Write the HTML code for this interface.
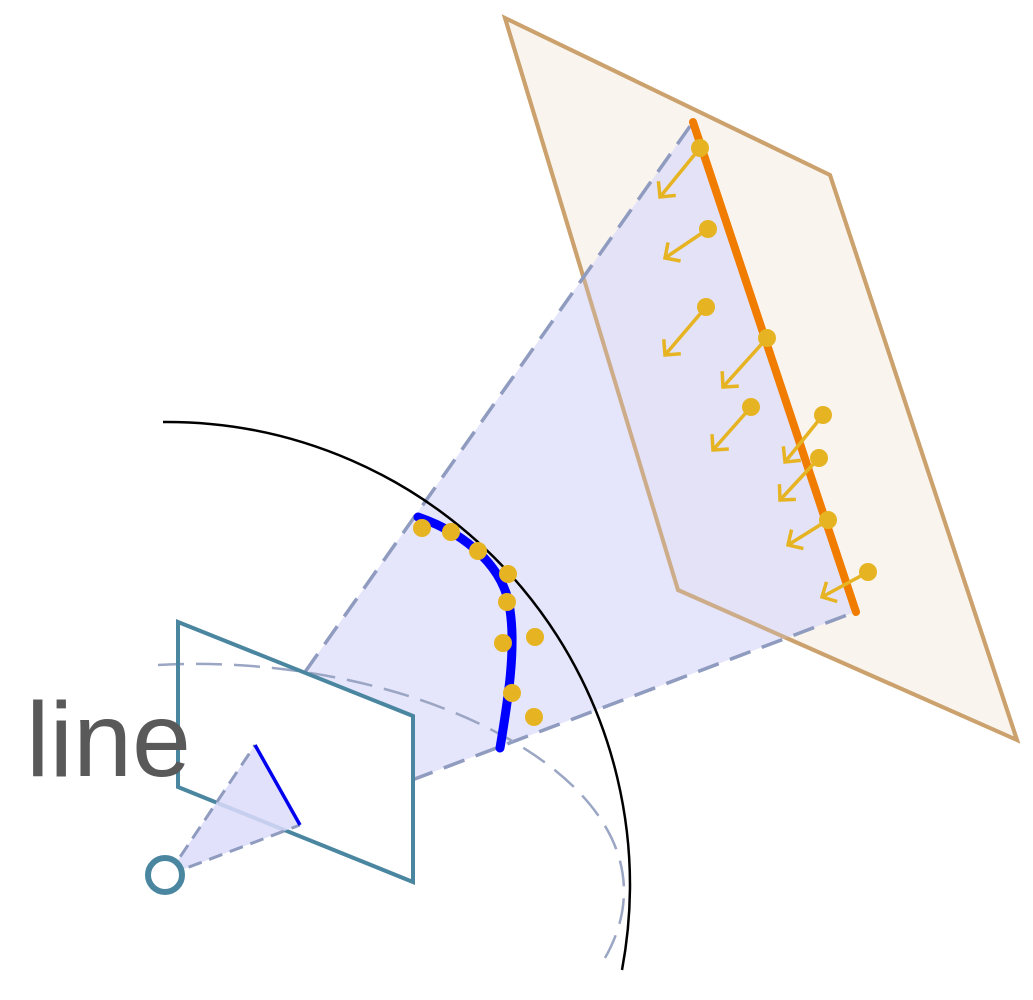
<!DOCTYPE html>
<html><head><meta charset="utf-8"><style>
html,body{margin:0;padding:0;background:#fff;}
svg{display:block;}
</style></head><body>
<svg id="fig" width="1033" height="1000" viewBox="0 0 1033 1000" xmlns="http://www.w3.org/2000/svg">
  <polygon points="505,18 830,175 1017,740 678,590" fill="#f9f4ee" stroke="#d4a464" stroke-width="4"/>
  <polygon points="305,672 693,122 855,612 412,780" fill="#dcdcfa" fill-opacity="0.75"/>
  <polygon points="505,18 830,175 1017,740 678,590" fill="none" stroke="#c8a070" stroke-opacity="0.75" stroke-width="4"/>
  <g stroke="#8f9bbf" stroke-width="3.5" stroke-dasharray="22,12" fill="none">
    <line x1="305" y1="672" x2="693" y2="122"/>
    <line x1="412" y1="780" x2="855" y2="612"/>
  </g>
  <path d="M163,422 A463,463 0 0 1 622,970" fill="none" stroke="#000" stroke-width="2.5"/>
  <polygon points="178,622 413,716 413,882 178,787" fill="#fff"/>
  <path d="M158,665 C420,650 700,790 605,958" fill="none" stroke="#9aa6c4" stroke-width="2.5" stroke-dasharray="26,12"/>
  <polygon points="178,622 413,716 413,882 178,787" fill="none" stroke="#4a86a0" stroke-width="4"/>
  <polygon points="168,875 255,745 300,825" fill="#dcdcfa" fill-opacity="0.85"/>
  <g stroke="#8f9bbf" stroke-width="3" stroke-dasharray="14,8">
    <line x1="168" y1="875" x2="255" y2="745"/>
    <line x1="168" y1="875" x2="300" y2="825"/>
  </g>
  <line x1="255" y1="745" x2="300" y2="825" stroke="#0000ee" stroke-width="3.5"/>
  <circle cx="165" cy="875" r="17" fill="#fff" stroke="#4a86a0" stroke-width="6"/>
  <path d="M418,517 C470,535 505,570 510,610 C516,650 508,700 500,748" fill="none" stroke="#0000ff" stroke-width="9" stroke-linecap="round"/>
  <line x1="693" y1="122" x2="856" y2="612" stroke="#f07c00" stroke-width="8" stroke-linecap="round"/>
  <g id="marks"></g>
  <text x="26" y="776" font-family="Liberation Sans, sans-serif" font-size="106" fill="#595959">line</text>
</svg>
<script>
const arcDotsX=[422,451,478,508,507,535,503,512,534];
const arcDotsY=[528,532,551,574,602,637,643,693,717];
const pinX=[700,708,706,767,751,823,819,828,868];
const pinY=[148,229,307,338,407,415,458,520,572];
const tipX=[660,665,665,723,713,785,780,788,822];
const tipY=[197,258,355,387,450,462,500,545,597];
const NS='http://www.w3.org/2000/svg';
const g=document.getElementById('marks');
const col='#e6b422';
for(let i=0;i<arcDotsX.length;i++){
  const c=document.createElementNS(NS,'circle');
  c.setAttribute('cx',arcDotsX[i]);c.setAttribute('cy',arcDotsY[i]);c.setAttribute('r',9);c.setAttribute('fill',col);
  
  
  g.appendChild(c);
}
for(let i=0;i<pinX.length;i++){
  const gg=document.createElementNS(NS,'g');
  
  
  const x0=pinX[i],y0=pinY[i],x1=tipX[i],y1=tipY[i];
  const dx=x1-x0,dy=y1-y0,L=Math.hypot(dx,dy),ux=dx/L,uy=dy/L,h=16;
  const a1x=x1-h*(ux*0.7-uy*0.7),a1y=y1-h*(uy*0.7+ux*0.7);
  const a2x=x1-h*(ux*0.7+uy*0.7),a2y=y1-h*(uy*0.7-ux*0.7);
  const p=document.createElementNS(NS,'path');
  p.setAttribute('d',`M${x0},${y0}L${x1},${y1}M${a1x},${a1y}L${x1},${y1}L${a2x},${a2y}`);
  p.setAttribute('stroke',col);p.setAttribute('stroke-width',3.5);p.setAttribute('fill','none');
  gg.appendChild(p);
  const c=document.createElementNS(NS,'circle');
  c.setAttribute('cx',x0);c.setAttribute('cy',y0);c.setAttribute('r',9);c.setAttribute('fill',col);
  gg.appendChild(c);
  g.appendChild(gg);
}
</script>
</body></html>
